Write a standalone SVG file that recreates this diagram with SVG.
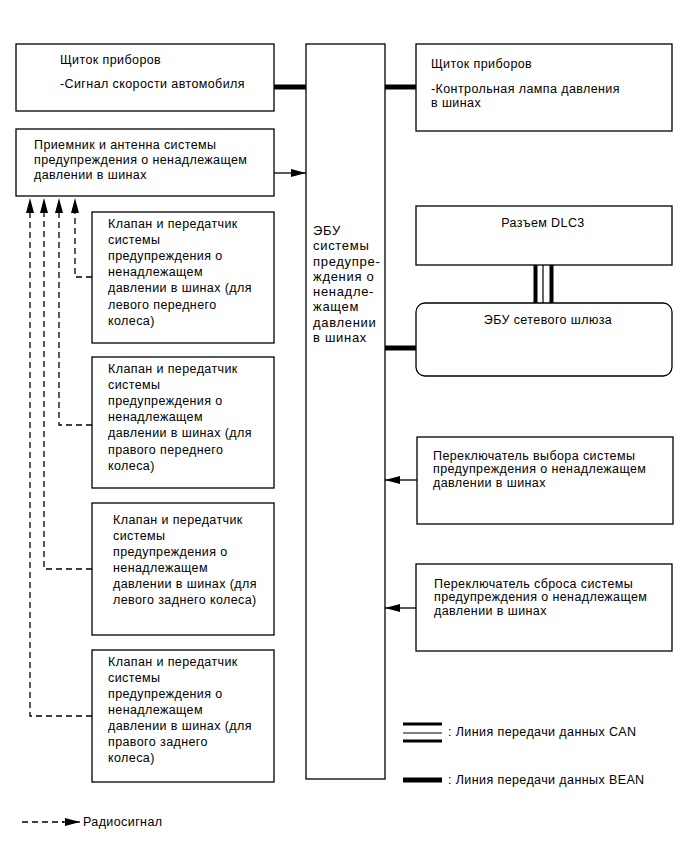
<svg xmlns="http://www.w3.org/2000/svg" width="690" height="855" viewBox="0 0 690 855">
<style>
.box{fill:#fff;stroke:#000;stroke-width:1.3}
text{font-family:"Liberation Sans",Arial,sans-serif;font-size:12.5px;letter-spacing:0.4px;fill:#000}
.ecut{font-size:13px;letter-spacing:0.7px}
.bean{stroke:#000;stroke-width:5;fill:none}
.sig{stroke:#000;stroke-width:1.3;fill:none}
.dash{stroke:#000;stroke-width:1.3;fill:none;stroke-dasharray:6,4}
</style>
<defs>
<marker id="ah" viewBox="0 0 10 10" refX="10" refY="5" markerWidth="15" markerHeight="8" markerUnits="userSpaceOnUse" orient="auto" preserveAspectRatio="none">
<path d="M0,0 L10,5 L0,10 z" fill="#000"/>
</marker>
</defs>
<rect width="690" height="855" fill="#fff"/>

<g id="connectors">
<line class="bean" x1="274" y1="87" x2="306" y2="87"/>
<line class="bean" x1="385" y1="87" x2="416" y2="87"/>
<line class="bean" x1="385" y1="348" x2="416" y2="348"/>
<line class="sig" x1="274" y1="173" x2="306" y2="173" marker-end="url(#ah)"/>
<line class="sig" x1="417" y1="480" x2="385" y2="480" marker-end="url(#ah)"/>
<line class="sig" x1="416" y1="608" x2="385" y2="608" marker-end="url(#ah)"/>
<g id="can">
<line stroke="#000" stroke-width="4" x1="535.5" y1="265" x2="535.5" y2="303"/>
<line stroke="#000" stroke-width="1.2" x1="543" y1="265" x2="543" y2="303"/>
<line stroke="#000" stroke-width="4" x1="551.5" y1="265" x2="551.5" y2="303"/>
</g>
<path class="dash" d="M92,277 H75 V213"/>
<path class="dash" d="M92,425 H59 V213"/>
<path class="dash" d="M92,569 H44 V213"/>
<path class="dash" d="M92,716 H30 V213"/>
<line class="sig" x1="75" y1="214" x2="75" y2="198" marker-end="url(#ah)" stroke-opacity="0"/>
<line class="sig" x1="59" y1="214" x2="59" y2="198" marker-end="url(#ah)" stroke-opacity="0"/>
<line class="sig" x1="44" y1="214" x2="44" y2="198" marker-end="url(#ah)" stroke-opacity="0"/>
<line class="sig" x1="30" y1="214" x2="30" y2="198" marker-end="url(#ah)" stroke-opacity="0"/>
</g>

<g id="cluster-speed">
<rect class="box" x="16" y="44" width="258" height="67"/>
<text x="60" y="64">Щиток приборов</text>
<text x="60" y="87.5">-Сигнал скорости автомобиля</text>
</g>

<g id="receiver">
<rect class="box" x="16" y="129" width="258" height="67"/>
<text x="34" y="149">Приемник и антенна системы</text>
<text x="34" y="164">предупреждения о ненадлежащем</text>
<text x="34" y="179">давлении в шинах</text>
</g>

<g id="ecu">
<rect class="box" x="306" y="44" width="79" height="735"/>
<text class="ecut" x="313" y="235">ЭБУ</text>
<text class="ecut" x="313" y="250">системы</text>
<text class="ecut" x="313" y="265.5">предупре-</text>
<text class="ecut" x="313" y="280.5">ждения о</text>
<text class="ecut" x="313" y="296">ненадле-</text>
<text class="ecut" x="313" y="311">жащем</text>
<text class="ecut" x="313" y="326.5">давлении</text>
<text class="ecut" x="313" y="341.5">в шинах</text>
</g>

<g id="cluster-lamp">
<rect class="box" x="416" y="44" width="256" height="87"/>
<text x="431" y="67.5">Щиток приборов</text>
<text x="431" y="93">-Контрольная лампа давления</text>
<text x="431" y="107">в шинах</text>
</g>

<g id="dlc3">
<rect class="box" x="416" y="206" width="256" height="59"/>
<text x="543" y="226.5" text-anchor="middle">Разъем DLC3</text>
</g>

<g id="gateway">
<rect class="box" x="416" y="303" width="256" height="73" rx="9" ry="9"/>
<text x="548" y="323.5" text-anchor="middle">ЭБУ сетевого шлюза</text>
</g>

<g id="select-switch">
<rect class="box" x="417" y="437" width="256" height="87"/>
<text x="433" y="459.5">Переключатель выбора системы</text>
<text x="433" y="473">предупреждения о ненадлежащем</text>
<text x="433" y="486.5">давлении в шинах</text>
</g>

<g id="reset-switch">
<rect class="box" x="416" y="564" width="256" height="87"/>
<text x="434" y="587.5">Переключатель сброса системы</text>
<text x="434" y="601">предупреждения о ненадлежащем</text>
<text x="434" y="614.5">давлении в шинах</text>
</g>

<g id="valve-lf">
<rect class="box" x="92" y="212" width="182" height="131"/>
<text x="108" y="227.5">Клапан и передатчик</text>
<text x="108" y="243.5">системы</text>
<text x="108" y="260">предупреждения о</text>
<text x="108" y="276">ненадлежащем</text>
<text x="108" y="292">давлении в шинах (для</text>
<text x="108" y="308.5">левого переднего</text>
<text x="108" y="324.5">колеса)</text>
</g>

<g id="valve-rf">
<rect class="box" x="92" y="357" width="182" height="131"/>
<text x="108" y="372.5">Клапан и передатчик</text>
<text x="108" y="388.5">системы</text>
<text x="108" y="405">предупреждения о</text>
<text x="108" y="421">ненадлежащем</text>
<text x="108" y="437">давлении в шинах (для</text>
<text x="108" y="453.5">правого переднего</text>
<text x="108" y="469.5">колеса)</text>
</g>

<g id="valve-lr">
<rect class="box" x="92" y="503" width="182" height="132"/>
<text x="113" y="524">Клапан и передатчик</text>
<text x="113" y="540">системы</text>
<text x="113" y="556">предупреждения о</text>
<text x="113" y="572">ненадлежащем</text>
<text x="113" y="588">давлении в шинах (для</text>
<text x="113" y="604">левого заднего колеса)</text>
</g>

<g id="valve-rr">
<rect class="box" x="92" y="650" width="182" height="132"/>
<text x="108" y="666">Клапан и передатчик</text>
<text x="108" y="682">системы</text>
<text x="108" y="698">предупреждения о</text>
<text x="108" y="714">ненадлежащем</text>
<text x="108" y="730">давлении в шинах (для</text>
<text x="108" y="746">правого заднего</text>
<text x="108" y="762">колеса)</text>
</g>

<g id="legend">
<line stroke="#000" stroke-width="3" x1="403" y1="724" x2="442" y2="724"/>
<line stroke="#000" stroke-width="1.2" x1="403" y1="733" x2="442" y2="733"/>
<line stroke="#000" stroke-width="3" x1="403" y1="741" x2="442" y2="741"/>
<text x="448" y="736">: Линия передачи данных CAN</text>
<line class="bean" x1="403" y1="780" x2="442" y2="780"/>
<text x="448" y="784">: Линия передачи данных BEAN</text>
<path class="dash" d="M22,822 H64"/>
<line class="sig" x1="62" y1="822" x2="80" y2="822" marker-end="url(#ah)"/>
<text x="83" y="826">Радиосигнал</text>
</g>
</svg>
